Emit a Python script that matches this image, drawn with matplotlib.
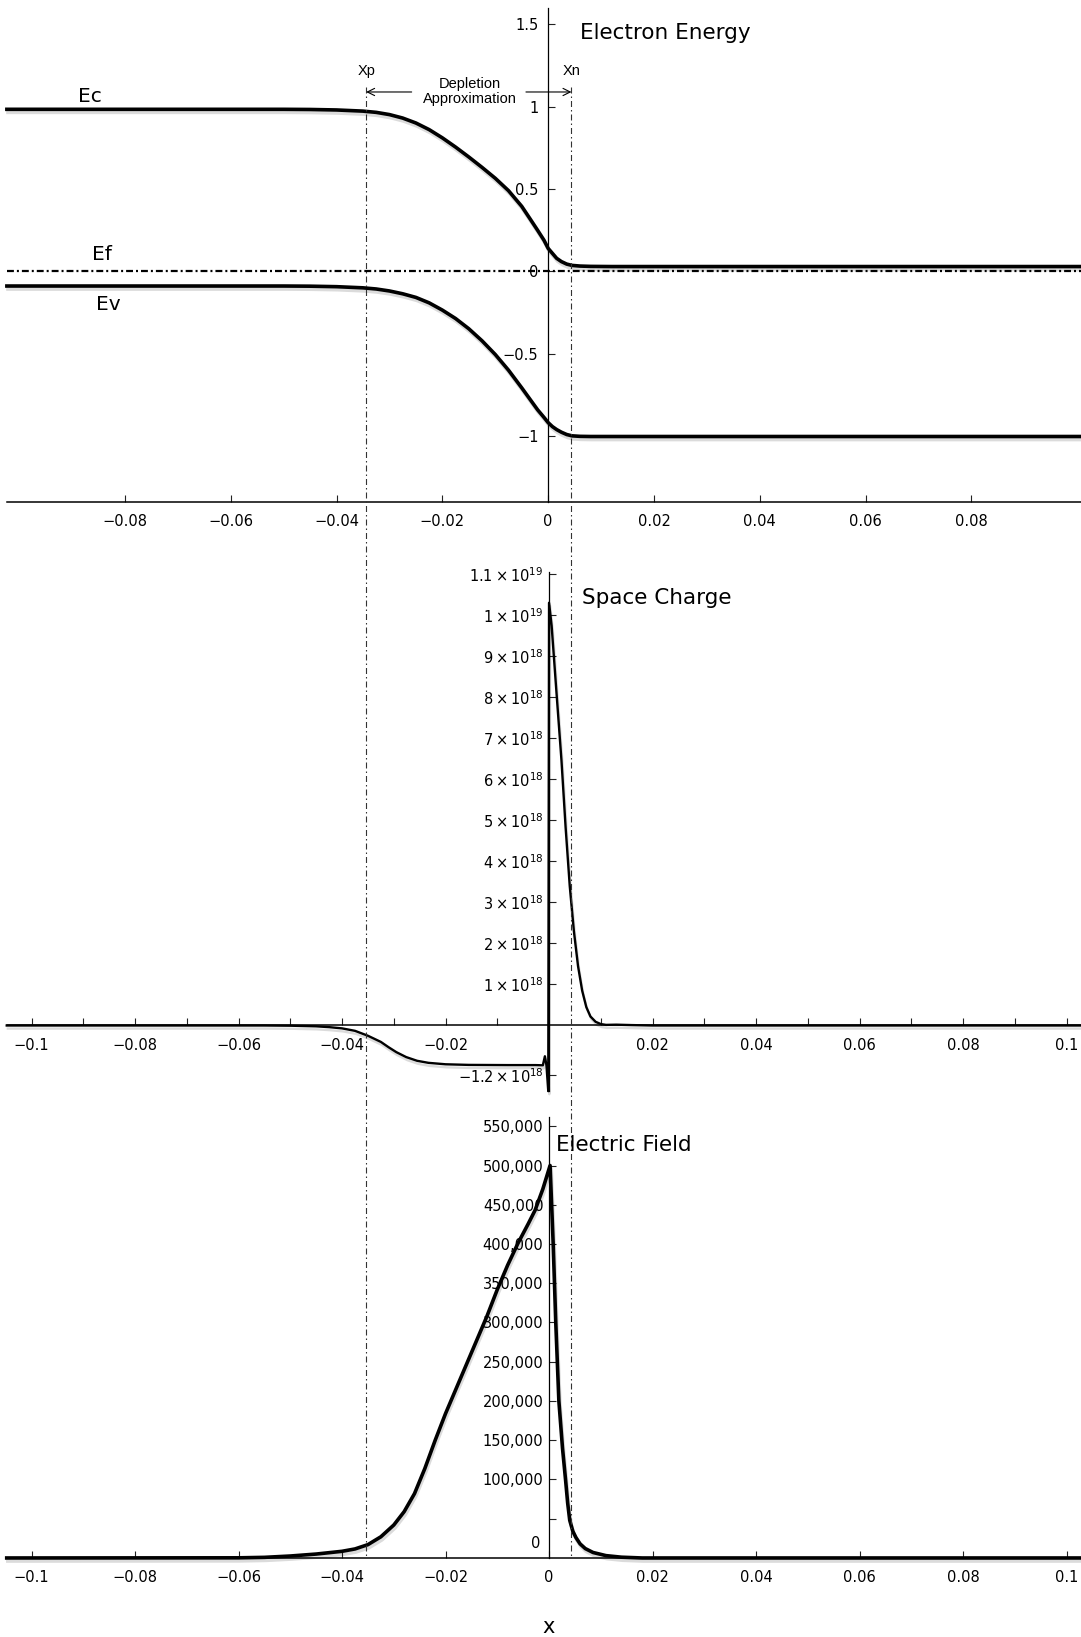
import numpy as np
import matplotlib
matplotlib.use('Agg')
import matplotlib.pyplot as plt
from matplotlib.lines import Line2D
from matplotlib import patheffects as pe

# ---- band diagram (eV) ----
x_band = [-0.1023, -0.05, -0.045, -0.04, -0.035, -0.0325, -0.03, -0.0275, -0.025,
          -0.0225, -0.02, -0.0175, -0.015, -0.0125, -0.01, -0.0075, -0.005, -0.0034,
          -0.002, -0.0008, 0.0, 0.0008, 0.0016, 0.0025, 0.0035, 0.0045, 0.006, 0.008,
          0.012, 0.1007]
ec = [0.983, 0.983, 0.982, 0.979, 0.972, 0.9645, 0.951, 0.93, 0.9,
      0.86, 0.81, 0.754, 0.694, 0.631, 0.565, 0.49, 0.395, 0.318,
      0.25, 0.19, 0.14, 0.11, 0.08, 0.06, 0.045, 0.037, 0.033, 0.031,
      0.03, 0.03]
ev = [-0.088, -0.088, -0.089, -0.092, -0.099, -0.106, -0.118, -0.135, -0.157,
      -0.19, -0.234, -0.285, -0.347, -0.42, -0.503, -0.598, -0.705, -0.776,
      -0.838, -0.884, -0.916, -0.94, -0.958, -0.974, -0.988, -0.996, -0.999, -1.0,
      -1.0, -1.0]
x_ef = [-0.1023, 0.1007]
ef = [0.0, 0.0]

# ---- space charge (units of 1e18) ----
x_rho = [-0.1048, -0.055, -0.05, -0.045, -0.0425, -0.04, -0.0375, -0.035, -0.0325,
         -0.031, -0.0295, -0.0276, -0.0255, -0.0233, -0.02, -0.0155, -0.008, -0.0026,
         -0.0012, -0.0008, -0.0005, -0.00015, 0.0, 0.0005, 0.00145, 0.0024, 0.0032,
         0.004, 0.0048, 0.0056, 0.0064, 0.0072, 0.008, 0.009, 0.010, 0.011, 0.013,
         0.016, 0.02, 0.1028]
rho = [0.0, 0.0, -0.005, -0.02, -0.04, -0.07, -0.13, -0.25, -0.4,
       -0.53, -0.65, -0.77, -0.86, -0.91, -0.945, -0.96, -0.965, -0.965,
       -0.97, -0.75, -0.97, -1.6, 10.3, 9.74, 8.09, 6.46, 4.83,
       3.4, 2.3, 1.45, 0.85, 0.45, 0.22, 0.09, 0.035, 0.015, 0.02,
       0.01, 0.0, 0.0]

# ---- electric field ----
x_field = [-0.1048, -0.06, -0.055, -0.05, -0.045, -0.04, -0.0375, -0.035, -0.0325,
           -0.03, -0.028, -0.026, -0.024, -0.022, -0.02, -0.018, -0.016, -0.014,
           -0.012, -0.01, -0.008, -0.006, -0.004, -0.0027, -0.0012, 0.0002, 0.0008,
           0.0013, 0.0019, 0.0026, 0.0032, 0.0036, 0.004, 0.0046, 0.0052, 0.006,
           0.007, 0.0085, 0.011, 0.014, 0.018, 0.1028]
field = [0, 200, 800, 2500, 5000, 8500, 11500, 17000, 27000,
         42000, 59000, 82000, 114000, 150000, 184000, 215000, 246000, 277000,
         308000, 342000, 373000, 401000, 426000, 443000, 470000, 500000, 400000,
         300000, 200000, 140000, 99000, 70000, 48000, 34000, 26000, 18000,
         12000, 7000, 3000, 1000, 0, 0]

# depletion edges
xp, xn = -0.0344, 0.0044

top_xticks = [-0.08, -0.06, -0.04, -0.02, 0, 0.02, 0.04, 0.06, 0.08]
top_xlabels = ['\u22120.08', '\u22120.06', '\u22120.04', '\u22120.02', '0',
               '0.02', '0.04', '0.06', '0.08']
top_yticks = [-1, -0.5, 0, 0.5, 1, 1.5]
top_ylabels = ['\u22121', '\u22120.5', '0', '0.5', '1', '1.5']

mid_xticks = [-0.1, -0.09, -0.08, -0.07, -0.06, -0.05, -0.04, -0.03, -0.02, -0.01,
              0.01, 0.02, 0.03, 0.04, 0.05, 0.06, 0.07, 0.08, 0.09, 0.1]
mid_xlabels = ['\u22120.1', '', '\u22120.08', '', '\u22120.06', '', '\u22120.04', '',
               '\u22120.02', '', '', '0.02', '', '0.04', '', '0.06', '', '0.08', '', '0.1']
mid_yticks = [-1.2, 1, 2, 3, 4, 5, 6, 7, 8, 9, 10, 11]
mid_ylabels = [r'$-1.2\times10^{18}$'] + [r'$%d\times10^{18}$' % k for k in range(1, 10)] + \
              [r'$1\times10^{19}$', r'$1.1\times10^{19}$']

bot_xticks = [-0.1, -0.08, -0.06, -0.04, -0.02, 0, 0.02, 0.04, 0.06, 0.08, 0.1]
bot_xlabels = ['\u22120.1', '\u22120.08', '\u22120.06', '\u22120.04', '\u22120.02', '0',
               '0.02', '0.04', '0.06', '0.08', '0.1']
bot_yticks = [50000, 100000, 150000, 200000, 250000, 300000, 350000, 400000,
              450000, 500000, 550000]
bot_ylabels = [''] + ['{:,}'.format(v) for v in bot_yticks[1:]]

plt.rcParams['font.family'] = 'DejaVu Sans'
plt.rcParams['mathtext.fontset'] = 'dejavusans'

W, H = 1081, 1637
fig = plt.figure(figsize=(W / 100, H / 100), dpi=100)


def axes_px(top, bottom):
    return fig.add_axes([0, 1 - bottom / H, 1, (bottom - top) / H])


def style(ax):
    for s in ('top', 'right'):
        ax.spines[s].set_visible(False)
    ax.patch.set_alpha(0)
    ax.spines['left'].set_position(('data', 0))
    ax.spines['left'].set_linewidth(0.9)
    ax.spines['bottom'].set_linewidth(1.1)
    ax.tick_params(direction='in', length=5, width=0.8, labelsize=10.5, color='#222')
    ax.tick_params(axis='x', pad=9)
    ax.tick_params(axis='y', pad=4)


shadow = [pe.SimpleLineShadow(offset=(0.8, -2.2), alpha=0.14), pe.Normal()]

# electron energy
ax1 = axes_px(8, 502)
style(ax1)
ax1.set_xlim(-0.1036, 0.1007)
ax1.set_ylim(-1.397, 1.597)
ax1.spines['bottom'].set_bounds(-0.1023, 0.1007)
ax1.plot(x_band, ec, color='k', lw=2.6, zorder=3, path_effects=shadow)
ax1.plot(x_band, ev, color='k', lw=2.6, zorder=3, path_effects=shadow)
ax1.plot(x_ef, ef, color='k', lw=1.6, ls=(0, (3.1, 1.35, 0.9, 1.35)), zorder=3)
ax1.set_xticks(top_xticks, top_xlabels)
ax1.set_yticks(top_yticks, top_ylabels)
ax1.tick_params(axis='y', pad=7)
ax1.text(-0.0867, 1.03, 'Ec', fontsize=14.5, ha='center', va='baseline')
ax1.text(-0.0844, 0.07, 'Ef', fontsize=14.5, ha='center', va='baseline')
ax1.text(-0.0832, -0.233, 'Ev', fontsize=14.5, ha='center', va='baseline')
ax1.text(xp, 1.215, 'Xp', fontsize=10.5, family='Liberation Sans', ha='center', va='center')
ax1.text(xn, 1.215, 'Xn', fontsize=10.5, family='Liberation Sans', ha='center', va='center')
ax1.text(-0.0148, 1.093, 'Depletion\nApproximation', fontsize=10.5, family='Liberation Sans',
         ha='center', va='center', linespacing=1.1)
arrow = dict(arrowstyle='->', lw=0.8, color='k', shrinkA=0, shrinkB=0, mutation_scale=13)
ax1.annotate('', xy=(xp, 1.088), xytext=(-0.0258, 1.088), arrowprops=arrow)
ax1.annotate('', xy=(xn, 1.088), xytext=(-0.0042, 1.088), arrowprops=arrow)

# space charge
ax2 = axes_px(572, 1091)
style(ax2)
ax2.set_xlim(-0.1061, 0.1028)
ax2.set_ylim(-1.596e18, 11.05e18)
ax2.spines['bottom'].set_position(('data', 0))
ax2.spines['bottom'].set_bounds(-0.1048, 0.1028)
ax2.plot(x_rho, np.array(rho) * 1e18, color='k', lw=1.7, zorder=3, clip_on=False,
         path_effects=shadow)
ax2.set_xticks(mid_xticks, mid_xlabels)
ax2.set_yticks(np.array(mid_yticks) * 1e18, mid_ylabels)

# electric field
ax3 = axes_px(1117, 1563)
style(ax3)
ax3.set_xlim(-0.1061, 0.1028)
ax3.set_ylim(-6400, 561800)
ax3.spines['bottom'].set_position(('data', 0))
ax3.spines['bottom'].set_bounds(-0.1048, 0.1028)
ax3.spines['left'].set_bounds(0, 561800)
ax3.plot(x_field, field, color='k', lw=2.6, zorder=3, clip_on=False, path_effects=shadow)
ax3.set_xticks(bot_xticks, bot_xlabels)
ax3.set_yticks(bot_yticks, bot_ylabels)
ax3.text(-0.0016, 19000, '0', fontsize=10.5, ha='right', va='center')

# panel captions
fig.text(580 / W, 1 - 39 / H, 'Electron Energy', fontsize=15.5, va='baseline')
fig.text(582 / W, 1 - 604 / H, 'Space Charge', fontsize=15.5, va='baseline')
fig.text(556 / W, 1 - 1151 / H, 'Electric Field', fontsize=15.5, va='baseline')
fig.text(549 / W, 1 - 1627 / H, 'x', fontsize=15, ha='center', va='center')

# depletion edges carried through all three panels
to_fig = fig.transFigure.inverted()
for xe in (xp, xn):
    fx = to_fig.transform(ax1.transData.transform((xe, 0)))[0]
    fig.add_artist(Line2D([fx, fx], [1 - 87 / H, 1 - 1556 / H], transform=fig.transFigure,
                          color='#333', lw=0.8, ls=(0, (5.4, 2.7, 1.35, 2.7)), zorder=1))

fig.savefig('out.png', dpi=100)
